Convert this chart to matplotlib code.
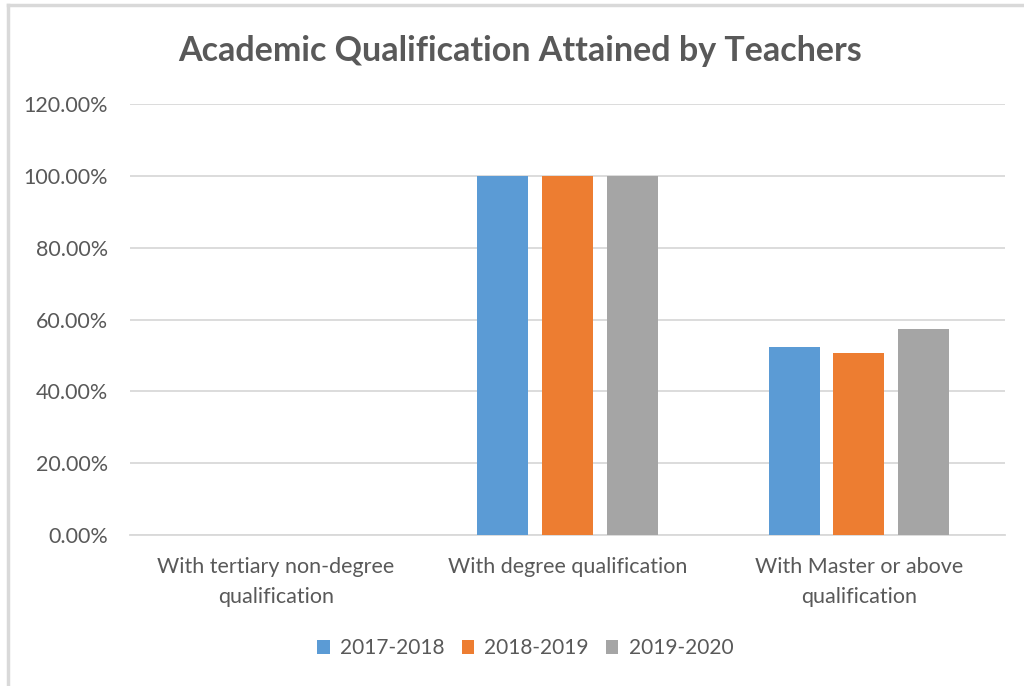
import matplotlib
matplotlib.use("Agg")
import matplotlib.pyplot as plt
import numpy as np
from matplotlib.lines import Line2D
from matplotlib.ticker import FuncFormatter

categories = ["With tertiary non-degree\nqualification", "With degree qualification",
              "With Master or above\nqualification"]
years = ["2017-2018", "2018-2019", "2019-2020"]
values_2017 = [0.0, 1.0, 0.524]
values_2018 = [0.0, 1.0, 0.506]
values_2019 = [0.0, 1.0, 0.573]
colors = ["#5b9bd5", "#ed7d31", "#a5a5a5"]
text_color = "#595959"

plt.rcParams["font.family"] = ["Lato", "DejaVu Sans"]

fig = plt.figure(figsize=(10.24, 6.86), dpi=100)
ax = fig.add_axes([0.127, 0.220, 0.854, 0.628])

x = np.arange(len(categories))
width = 0.175
step = 0.222
for i, (vals, label) in enumerate(zip([values_2017, values_2018, values_2019], years)):
    ax.bar(x + (i - 1) * step, vals, width, color=colors[i], label=label, zorder=3)

ax.set_ylim(0, 1.2)
ax.set_xlim(-0.5, 2.5)
ax.set_yticks(np.arange(0, 1.21, 0.2))
ax.yaxis.set_major_formatter(FuncFormatter(lambda v, _: f"{v * 100:.2f}%"))
ax.set_xticks(x)
ax.set_xticklabels(categories, linespacing=1.6)
ax.tick_params(axis="both", length=0, colors=text_color)
ax.tick_params(axis="y", labelsize=15.5, pad=16)
ax.tick_params(axis="x", labelsize=15.5, pad=16)
ax.grid(axis="y", color="#d9d9d9", linewidth=1.3, zorder=0)
for side in ["top", "right", "left"]:
    ax.spines[side].set_visible(False)
ax.spines["bottom"].set_color("#d9d9d9")
ax.spines["bottom"].set_linewidth(1.3)

fig.text(0.508, 0.925, "Academic Qualification Attained by Teachers", ha="center", va="center",
         fontsize=24.5, fontweight="bold", color=text_color)

fig.legend(loc="center", bbox_to_anchor=(0.513, 0.055), ncol=3, frameon=False,
           fontsize=15, handlelength=0.6, handleheight=0.6, handletextpad=0.5,
           columnspacing=0.8, labelcolor=text_color)

# screenshot frame: only the left and top edges are visible
fig.lines.append(Line2D([0.008, 0.008], [0.0, 0.993], transform=fig.transFigure,
                        color="#d9d9d9", linewidth=2.5))
fig.lines.append(Line2D([0.008, 1.0], [0.993, 0.993], transform=fig.transFigure,
                        color="#d9d9d9", linewidth=2.5))

fig.savefig("out.png", dpi=100)
